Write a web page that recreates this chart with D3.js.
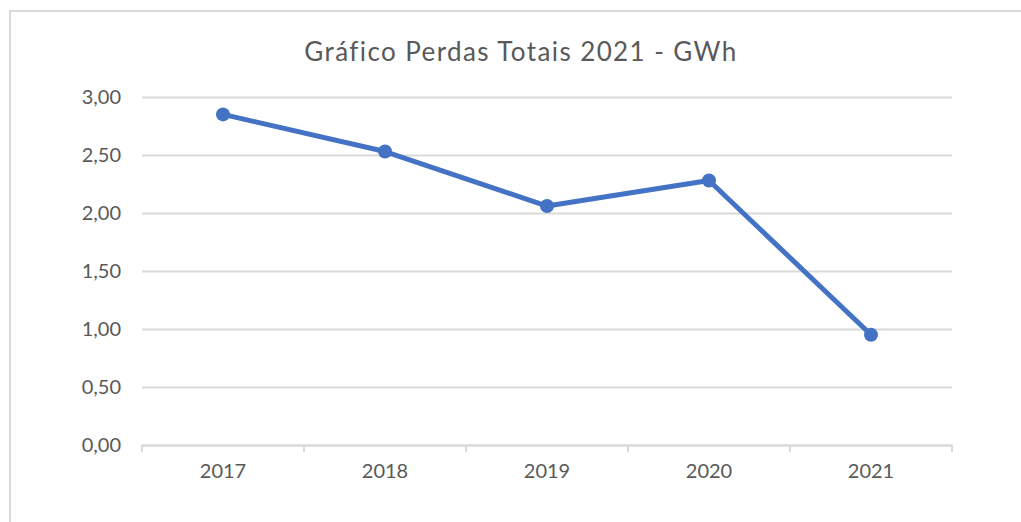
<!DOCTYPE html>
<html>
<head>
<meta charset="UTF-8">
<title>Gráfico Perdas Totais 2021 - GWh</title>
<style>
  body { margin: 0; background: #fff; }
  svg { display: block; }
  .axis text { font-family: Lato, "Noto Sans", sans-serif; fill: #595959; }
</style>
</head>
<body>
<div id="chart"></div>
<script src="https://cdn.jsdelivr.net/npm/d3@7"></script>
<script>
// dados
var anos = ["2017", "2018", "2019", "2020", "2021"];
var perdas = [2.85, 2.53, 2.06, 2.28, 0.95];
var yTicks = [0, 0.5, 1, 1.5, 2, 2.5, 3];

var width = 1021, height = 522;
var margin = { top: 97, right: 69, bottom: 77, left: 142 };
var w = width - margin.left - margin.right;
var h = height - margin.top - margin.bottom;

var svg = d3.select("#chart").append("svg")
  .attr("width", width)
  .attr("height", height);

// moldura
svg.append("rect")
  .attr("x", 10).attr("y", 11)
  .attr("width", width).attr("height", height)
  .attr("fill", "none")
  .attr("stroke", "#d9d9d9")
  .attr("stroke-width", 2);

svg.append("text")
  .attr("x", 521).attr("y", 61)
  .attr("text-anchor", "middle")
  .style("font-family", "Lato, 'Noto Sans', sans-serif")
  .style("font-size", "26px")
  .style("letter-spacing", "1.4px")
  .style("fill", "#595959")
  .text("Gráfico Perdas Totais 2021 - GWh");

var g = svg.append("g").attr("transform", "translate(" + margin.left + "," + margin.top + ")");

var x = d3.scaleBand().domain(anos).range([0, w]);
var y = d3.scaleLinear().domain([0, 3]).range([h, 0]);
var fmt = function(d) { return d3.format(".2f")(d).replace(".", ","); };

// eixo y + grade
var yAxis = g.append("g").attr("class", "axis")
  .call(d3.axisLeft(y).tickValues(yTicks).tickFormat(fmt).tickSize(-w).tickPadding(21));
yAxis.select(".domain").remove();
yAxis.selectAll("line").attr("stroke", "#d9d9d9").attr("stroke-width", 2);
yAxis.selectAll("text").style("font-size", "20px");

// eixo x
var xAxis = g.append("g").attr("class", "axis")
  .attr("transform", "translate(0," + h + ")")
  .call(d3.axisBottom(x).tickSize(0).tickPadding(19));
xAxis.select(".domain").attr("stroke", "#d9d9d9").attr("stroke-width", 2);
xAxis.selectAll("text").style("font-size", "20px");
// marcas entre categorias
xAxis.selectAll(".sep")
  .data(d3.range(anos.length + 1))
  .enter().append("line")
  .attr("class", "sep")
  .attr("x1", function(i) { return i * x.step(); })
  .attr("x2", function(i) { return i * x.step(); })
  .attr("y1", 0).attr("y2", 7)
  .attr("stroke", "#d9d9d9").attr("stroke-width", 2);

var cx = function(d, i) { return x(anos[i]) + x.bandwidth() / 2; };

g.append("path")
  .datum(perdas)
  .attr("fill", "none")
  .attr("stroke", "#4472c4")
  .attr("stroke-width", 5)
  .attr("stroke-linejoin", "round")
  .attr("d", d3.line().x(cx).y(function(d) { return y(d); }));

g.selectAll(".ponto")
  .data(perdas)
  .enter().append("circle")
  .attr("class", "ponto")
  .attr("cx", cx)
  .attr("cy", function(d) { return y(d); })
  .attr("r", 7)
  .attr("fill", "#4472c4");
</script>
</body>
</html>
